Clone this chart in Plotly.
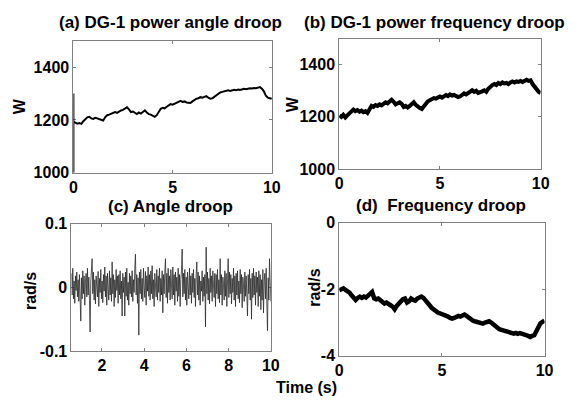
import numpy as np
import plotly.graph_objects as go

# ---------------- data ----------------
t_grid = [round(0.1 * i, 1) for i in range(101)]

# (a) DG-1 power, angle droop (W); initial transient at t=0
a_spike = [1300, 1000]
a_vals = [1194, 1190, 1186, 1188, 1185, 1195, 1202, 1210, 1212, 1206,
          1204, 1208, 1206, 1203, 1200, 1198, 1210, 1218, 1220, 1224,
          1228, 1230, 1227, 1232, 1236, 1238, 1244, 1248, 1240, 1230,
          1232, 1226, 1222, 1228, 1224, 1230, 1236, 1228, 1222, 1220,
          1216, 1212, 1218, 1230, 1242, 1246, 1244, 1250, 1256, 1260,
          1258, 1262, 1266, 1270, 1272, 1268, 1270, 1266, 1266, 1264,
          1270, 1276, 1280, 1282, 1286, 1284, 1288, 1290, 1284, 1280,
          1282, 1288, 1294, 1300, 1304, 1306, 1308, 1310, 1312, 1310,
          1312, 1314, 1312, 1315, 1313, 1316, 1318, 1316, 1318, 1320,
          1319, 1321, 1320, 1322, 1324, 1318, 1308, 1292, 1284, 1282,
          1280]

# (b) DG-1 power, frequency droop (W)
b_vals = [1205, 1200, 1208, 1198, 1206, 1212, 1220, 1228, 1222, 1226,
          1220, 1224, 1218, 1222, 1215, 1228, 1242, 1238, 1245, 1242,
          1248, 1244, 1250, 1256, 1252, 1262, 1266, 1258, 1248, 1252,
          1256, 1250, 1238, 1242, 1236, 1242, 1248, 1256, 1246, 1238,
          1234, 1230, 1240, 1252, 1260, 1264, 1268, 1272, 1270, 1276,
          1278, 1274, 1280, 1284, 1280, 1286, 1282, 1284, 1280, 1276,
          1278, 1284, 1290, 1286, 1292, 1298, 1302, 1296, 1300, 1292,
          1294, 1298, 1302, 1296, 1308, 1318, 1322, 1326, 1322, 1330,
          1326, 1332, 1328, 1330, 1326, 1332, 1336, 1332, 1336, 1334,
          1338, 1334, 1340, 1342, 1338, 1340, 1326, 1314, 1302, 1296,
          1292]

# (c) angle droop (rad/s), from t = 0.56 to 10
c_t_start, c_t_end = 0.56, 10.0
c_vals = [0.022, -0.012, 0.030, -0.018, 0.010, -0.025, 0.018, -0.005, 0.024, -0.015,
          0.012, -0.022, 0.020, -0.008, -0.053, 0.015, -0.018, 0.026, -0.010, 0.018,
          -0.028, 0.008, 0.022, -0.015, 0.030, -0.012, 0.016, -0.020, -0.070, 0.010,
          0.028, 0.045, -0.010, 0.024, -0.020, 0.012, -0.026, 0.018, 0.002, -0.015,
          0.025, -0.030, 0.014, -0.008, 0.028, -0.018, 0.010, -0.024, 0.020, -0.006,
          0.032, -0.015, 0.018, -0.028, 0.022, 0.004, -0.020, 0.026, -0.012, 0.015,
          -0.022, 0.040, -0.010, 0.020, -0.030, 0.012, -0.016, 0.028, -0.005, 0.018,
          -0.025, 0.020, -0.012, 0.026, -0.018, 0.010, -0.045, 0.022, -0.008, 0.016,
          -0.045, 0.024, -0.014, 0.030, -0.020, 0.008, -0.028, 0.022, -0.010, 0.018,
          -0.015, 0.026, -0.022, 0.012, -0.008, 0.030, 0.052, -0.012, 0.020, -0.025,
          0.015, -0.075, 0.024, -0.010, 0.028, -0.018, 0.014, -0.022, 0.030, 0.002,
          -0.016, 0.025, -0.028, 0.018, -0.006, 0.032, -0.014, 0.020, -0.020, 0.026,
          -0.010, 0.034, -0.018, 0.012, -0.030, 0.022, 0.005, -0.015, 0.028, -0.020,
          0.018, -0.008, 0.030, -0.022, 0.014, -0.012, 0.026, -0.040, 0.020, -0.010,
          0.024, 0.045, -0.016, 0.022, -0.025, 0.030, -0.008, 0.018, -0.020, 0.028,
          0.004, -0.018, 0.032, -0.012, 0.020, -0.028, 0.024, -0.006, 0.016, -0.022,
          0.030, -0.014, 0.020, -0.030, 0.012, 0.026, 0.060, -0.015, 0.022, -0.010,
          0.028, -0.020, 0.016, -0.028, 0.024, 0.002, -0.018, 0.030, -0.012, 0.018,
          -0.025, 0.022, -0.008, 0.028, -0.016, 0.014, -0.030, 0.020, 0.040, -0.012,
          0.024, -0.020, 0.018, -0.028, 0.010, -0.006, 0.026, -0.022, 0.016, -0.014,
          0.020, -0.062, 0.063, -0.010, 0.024, -0.020, 0.014, -0.026, 0.030, -0.008,
          0.018, -0.022, 0.026, 0.004, -0.016, 0.022, -0.030, 0.020, -0.010, 0.028,
          -0.018, 0.012, -0.024, 0.045, -0.012, 0.020, -0.028, 0.016, 0.006, -0.020,
          0.026, -0.014, 0.022, -0.030, 0.018, 0.045, -0.016, 0.024, -0.010, 0.020,
          -0.026, 0.014, -0.008, 0.030, -0.020, 0.018, -0.030, 0.022, -0.012, 0.026,
          -0.018, 0.010, -0.024, 0.028, -0.010, 0.020, -0.032, 0.016, 0.004, -0.022,
          0.024, -0.014, 0.018, -0.026, -0.045, 0.020, -0.010, 0.028, -0.020, 0.014,
          -0.050, 0.022, -0.016, 0.030, -0.012, 0.018, -0.028, 0.024, -0.008, 0.016,
          -0.030, 0.026, -0.014, 0.020, -0.035, 0.012, -0.020, 0.028, -0.040, 0.010,
          0.022, -0.018, 0.030, -0.025, -0.068, 0.015, -0.020, 0.045, 0.018, -0.022]

# (d) frequency droop (rad/s)
d_vals = [-2.03, -2.00, -1.97, -2.02, -2.05, -2.10, -2.18, -2.25, -2.32, -2.26,
          -2.22, -2.26, -2.22, -2.25, -2.18, -2.12, -2.08, -2.27, -2.30, -2.28,
          -2.33, -2.38, -2.43, -2.40, -2.46, -2.48, -2.52, -2.60, -2.50, -2.42,
          -2.38, -2.30, -2.28, -2.40, -2.36, -2.28, -2.32, -2.34, -2.28, -2.24,
          -2.22, -2.26, -2.32, -2.42, -2.48, -2.56, -2.62, -2.66, -2.70, -2.72,
          -2.74, -2.78, -2.80, -2.82, -2.86, -2.88, -2.86, -2.82, -2.80, -2.82,
          -2.80, -2.76, -2.80, -2.86, -2.90, -2.94, -2.96, -2.98, -3.00, -3.02,
          -3.03, -3.00, -2.98, -2.96, -3.00, -3.05, -3.12, -3.16, -3.20, -3.22,
          -3.24, -3.26, -3.28, -3.30, -3.32, -3.33, -3.31, -3.34, -3.32, -3.33,
          -3.36, -3.38, -3.40, -3.43, -3.40, -3.38, -3.26, -3.12, -3.02, -2.98,
          -2.94]

titles = ["(a) DG-1 power angle droop", "(b) DG-1 power frequency droop",
          "(c) Angle droop", "(d)  Frequency droop"]
power_ticks = [1000, 1200, 1400]
x_ticks_5 = [0, 5, 10]
c_x_ticks = [2, 4, 6, 8, 10]
c_y_ticks = [-0.1, 0, 0.1]
c_y_text = ["-0.1", "0", "0.1"]
d_y_ticks = [-4, -2, 0]
d_y_text = ["-4", "-2", "0"]

# ---------------- figure ----------------
W, H = 577, 408
def dx(a, b):
    return [a / W, b / W]
def dy(top, bot):
    return [1 - bot / H, 1 - top / H]

FONT = "Arial, Liberation Sans, sans-serif"
tickfont = dict(family=FONT, size=16, color="black", weight="bold")

fig = go.Figure()

fig.add_trace(go.Scatter(x=[0, 0] + t_grid, y=a_spike + a_vals, mode="lines",
                         line=dict(color="black", width=2), xaxis="x", yaxis="y"))
fig.add_trace(go.Scatter(x=t_grid, y=b_vals, mode="lines",
                         line=dict(color="black", width=4), xaxis="x2", yaxis="y2"))
c_t = np.linspace(c_t_start, c_t_end, len(c_vals))
fig.add_trace(go.Scatter(x=c_t, y=c_vals, mode="lines",
                         line=dict(color="#2a2a2a", width=0.8), xaxis="x3", yaxis="y3"))
fig.add_trace(go.Scatter(x=t_grid, y=d_vals, mode="lines",
                         line=dict(color="black", width=4.5), xaxis="x4", yaxis="y4"))

common = dict(showgrid=False, zeroline=False, showline=True, linecolor="#808080",
              linewidth=1, mirror="ticks", ticks="inside", ticklen=3,
              tickcolor="#808080", tickfont=tickfont, layer="below traces")

fig.update_layout(
    width=W, height=H, margin=dict(l=0, r=0, t=0, b=0),
    paper_bgcolor="white", plot_bgcolor="white", showlegend=False,
    xaxis=dict(domain=dx(71, 274), range=[0, 10], tickvals=x_ticks_5, anchor="y", **common),
    yaxis=dict(domain=dy(34, 172), range=[1000, 1500], tickvals=power_ticks, anchor="x", **common),
    xaxis2=dict(domain=dx(343, 549), range=[0, 10], tickvals=x_ticks_5, anchor="y2", **common),
    yaxis2=dict(domain=dy(32, 168), range=[1000, 1500], tickvals=power_ticks, anchor="x2", **common),
    xaxis3=dict(domain=dx(69, 273), range=[c_t_start, c_t_end], tickvals=c_x_ticks, anchor="y3", **common),
    yaxis3=dict(domain=dy(225, 358), range=[-0.1, 0.1], tickvals=c_y_ticks, ticktext=c_y_text, anchor="x3", **common),
    xaxis4=dict(domain=dx(343, 553), range=[0, 10], tickvals=x_ticks_5, anchor="y4", **common),
    yaxis4=dict(domain=dy(224, 363), range=[-4, 0], tickvals=d_y_ticks, ticktext=d_y_text, anchor="x4", **common),
)

def label(text, x, y, size=17, angle=0, yanchor="middle"):
    fig.add_annotation(text=text, x=x / W, y=1 - y / H, xref="paper", yref="paper",
                       showarrow=False, textangle=angle, xanchor="center", yanchor=yanchor,
                       font=dict(family=FONT, size=size, color="black", weight="bold"))

label(titles[0], 170, 3, yanchor="top")
label(titles[1], 440, 3, yanchor="top")
label(titles[2], 170, 195, yanchor="top")
label(titles[3], 447, 194, yanchor="top")
label("W", 16, 103, size=16, angle=-90)
label("W", 296, 100, size=16, angle=-90)
label("rad/s", 27, 295, size=16, angle=-90)
label("rad/s", 318, 292, size=16, angle=-90)
label("Time (s)", 309, 407, size=16, yanchor="bottom")

fig.write_html("out.html")
